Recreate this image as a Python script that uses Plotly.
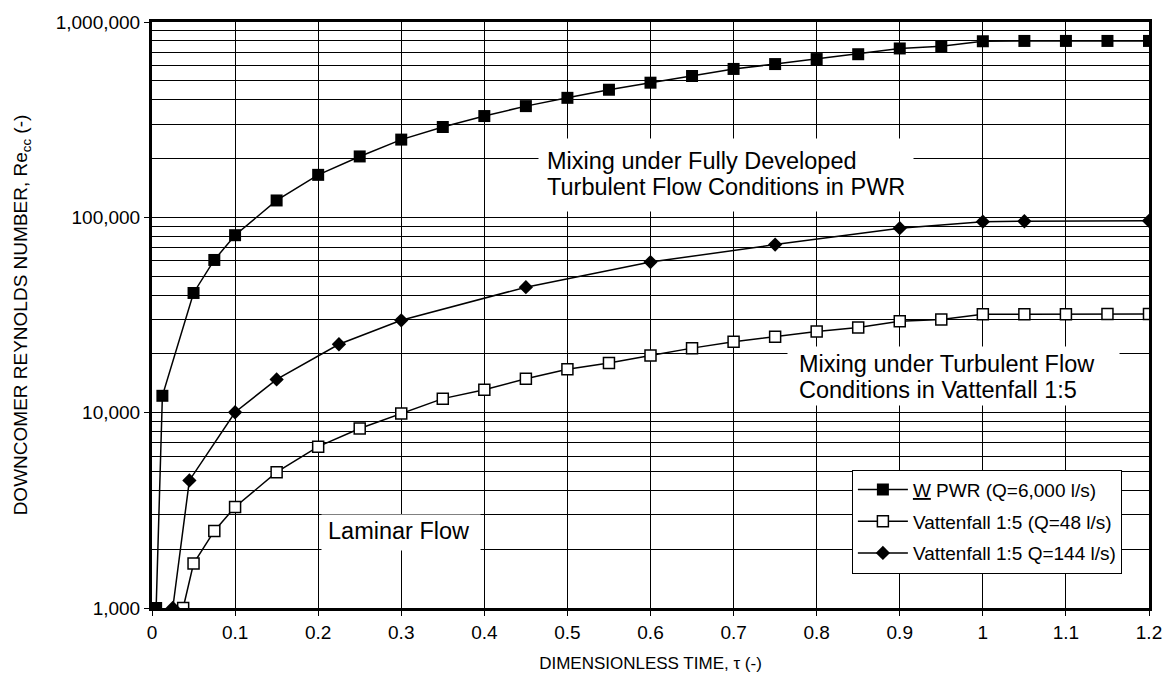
import plotly.graph_objects as go

# Dimensionless time (tau) and downcomer Reynolds number for each case
pwr_tau = [0.005, 0.0125, 0.05, 0.075, 0.1, 0.15, 0.2, 0.25, 0.3, 0.35, 0.4, 0.45, 0.5,
           0.55, 0.6, 0.65, 0.7, 0.75, 0.8, 0.85, 0.9, 0.95, 1.0, 1.05, 1.1, 1.15, 1.2]
pwr_re = [1000, 12200, 41000, 60500, 81000, 122000, 165000, 205000, 250000, 290000, 330000,
          371000, 409000, 450000, 489000, 529000, 575000, 609000, 646000, 684000, 732000,
          752000, 797000, 800000, 800000, 800000, 800000]

v48_tau = [0.0375, 0.05, 0.075, 0.1, 0.15, 0.2, 0.25, 0.3, 0.35, 0.4, 0.45, 0.5, 0.55, 0.6,
           0.65, 0.7, 0.75, 0.8, 0.85, 0.9, 0.95, 1.0, 1.05, 1.1, 1.15, 1.2]
v48_re = [1000, 1690, 2480, 3290, 4960, 6700, 8300, 9900, 11800, 13100, 14900, 16700, 17950,
          19600, 21400, 23100, 24500, 26000, 27300, 29400, 30000, 31900, 31900, 31900, 32000,
          32000]

v144_tau = [0.025, 0.045, 0.1, 0.15, 0.225, 0.3, 0.45, 0.6, 0.75, 0.9, 1.0, 1.05, 1.2]
v144_re = [1000, 4500, 10050, 14800, 22400, 29700, 43900, 59000, 72500, 88000, 95000, 95500,
           96000]

series_names = ["<u>W</u> PWR (Q=6,000 l/s)",
                "Vattenfall 1:5 (Q=48 l/s)",
                "Vattenfall 1:5 Q=144 l/s)"]

x_ticks = [0, 0.1, 0.2, 0.3, 0.4, 0.5, 0.6, 0.7, 0.8, 0.9, 1.0, 1.1, 1.2]
x_tick_text = ["0", "0.1", "0.2", "0.3", "0.4", "0.5", "0.6", "0.7", "0.8", "0.9", "1", "1.1", "1.2"]
y_ticks = [1000, 10000, 100000, 1000000]
y_tick_text = ["1,000", "10,000", "100,000", "1,000,000"]
y_minor = [m * d for d in (1000, 10000, 100000) for m in range(2, 10)]

# Region labels: (tau, log10 Re, text)
region_notes = [
    (0.473, 5.286, "Mixing under Fully Developed"),
    (0.473, 5.154, "Turbulent Flow Conditions in PWR"),
    (0.776, 4.247, "Mixing under Turbulent Flow"),
    (0.776, 4.115, "Conditions in Vattenfall 1:5"),
    (0.209, 3.395, "Laminar Flow"),
]
# White panels behind each label block: (tau left, log10 Re centre, width px, height px)
label_panels = [
    (0.4645, 5.215, 374, 72),
    (0.764, 4.186, 331, 58),
    (0.2034, 3.388, 158, 35),
]

FONT = "Liberation Sans, Arial, Helvetica, sans-serif"

fig = go.Figure()
fig.add_trace(go.Scatter(
    x=pwr_tau, y=pwr_re, mode="lines+markers", name=series_names[0], legendgroup="a",
    line=dict(color="black", width=1.5),
    marker=dict(symbol="square", size=12, color="black")))
fig.add_trace(go.Scatter(
    x=v48_tau, y=v48_re, mode="lines+markers", name=series_names[1], legendgroup="b",
    line=dict(color="black", width=1.5),
    marker=dict(symbol="square", size=11, color="white", line=dict(color="black", width=1.5))))
fig.add_trace(go.Scatter(
    x=v144_tau, y=v144_re, mode="lines+markers", name=series_names[2], legendgroup="c",
    line=dict(color="black", width=1.5),
    marker=dict(symbol="diamond", size=11, color="black")))

annotations = []
# blank white boxes first, so the label text is drawn on top of them
for x, y, w, h in label_panels:
    annotations.append(dict(x=x, y=y, xref="x", yref="y", text=" ", showarrow=False,
                            xanchor="left", yanchor="middle", width=w, height=h,
                            bgcolor="white", borderpad=0, font=dict(size=10)))
for x, y, t in region_notes:
    annotations.append(dict(x=x, y=y, xref="x", yref="y", text=t, showarrow=False,
                            xanchor="left", yanchor="middle",
                            font=dict(size=23.5, color="black", family=FONT)))

fig.update_layout(
    width=1174, height=684,
    margin=dict(l=152, r=25, t=16, b=76),
    paper_bgcolor="white", plot_bgcolor="white",
    font=dict(family=FONT, color="black", size=19),
    showlegend=True,
    legend=dict(x=0.702, y=0.236, xanchor="left", yanchor="top", bgcolor="white",
                bordercolor="black", borderwidth=1, font=dict(size=19, family=FONT),
                tracegroupgap=4, itemwidth=50),
    annotations=annotations,
    xaxis=dict(
        range=[0, 1.2], tickmode="array", tickvals=x_ticks, ticktext=x_tick_text,
        showgrid=True, gridcolor="black", gridwidth=1, zeroline=False,
        showline=True, linecolor="black", linewidth=3, mirror=True,
        ticks="outside", ticklen=5, tickcolor="black", tickfont=dict(size=19),
        title=dict(text="DIMENSIONLESS TIME, \u03c4 (-)", font=dict(size=17), standoff=16),
    ),
    yaxis=dict(
        type="log", range=[3, 6], tickmode="array", tickvals=y_ticks, ticktext=y_tick_text,
        showgrid=True, gridcolor="black", gridwidth=1, zeroline=False,
        showline=True, linecolor="black", linewidth=3, mirror=True,
        ticks="outside", ticklen=5, tickcolor="black", tickfont=dict(size=19),
        minor=dict(tickmode="array", tickvals=y_minor, showgrid=True,
                   gridcolor="black", gridwidth=1, ticks=""),
        title=dict(text="DOWNCOMER REYNOLDS NUMBER, Re<sub>cc</sub> (-)",
                   font=dict(size=19), standoff=24),
    ),
)

fig.write_html("out.html")
